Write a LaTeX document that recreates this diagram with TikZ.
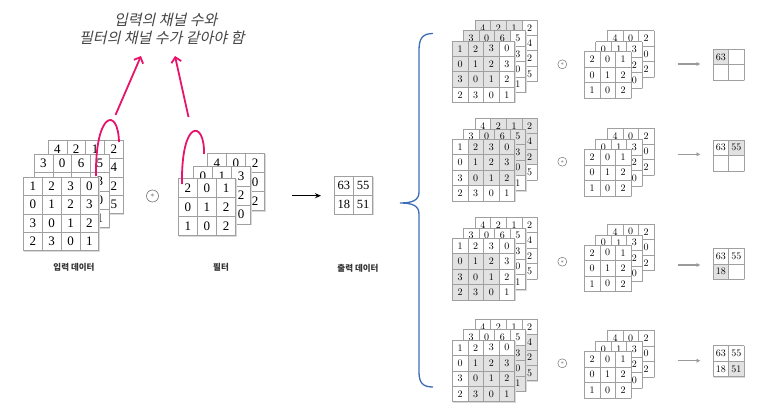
\documentclass[tikz,border=0pt]{standalone}
\usepackage{fontspec}
\usetikzlibrary{arrows.meta}
\newfontfamily\kr{Noto Sans CJK KR}
\newfontfamily\tms{Liberation Serif}
\definecolor{gridc}{HTML}{A0A0A0}
\definecolor{shadec}{HTML}{E2E2E2}
\definecolor{pinkc}{HTML}{E8146C}
\definecolor{bracec}{HTML}{3D6DB5}
\definecolor{labc}{HTML}{333333}
\definecolor{titlec}{HTML}{454545}
\definecolor{arrgray}{HTML}{9A9A9A}
% #1 name, #2 x, #3 y, #4 w, #5 h, #6 cols, #7 rows, #8 values, #9 window c0/r0/c1/r1
\newcommand\glayer[9]{%
  \fill[gridshadow] ({#2+0.9},{#3+0.9}) rectangle ++({#6*#4},{#7*#5});
  \fill[white] (#2,#3) rectangle ++({#6*#4},{#7*#5});
  \foreach \gwA/\gwB/\gwC/\gwD in {#9}{\fill[shadec] ({#2+\gwA*#4},{#3+\gwB*#5}) rectangle ({#2+(\gwC+1)*#4},{#3+(\gwD+1)*#5});}
  \foreach \gi in {0,...,#6}{\draw[gridline] ({#2+\gi*#4},#3) -- ++(0,{#7*#5});}
  \foreach \gj in {0,...,#7}{\draw[gridline] (#2,{#3+\gj*#5}) -- ++({#6*#4},0);}
  \foreach \gval [count=\gk from 0] in {#8}{%
    \pgfmathtruncatemacro\gR{int(\gk/#6)}%
    \pgfmathtruncatemacro\gC{mod(\gk,#6)}%
    \node[cellnum] (#1-\gR-\gC) at ({#2+(\gC+0.5)*#4},{#3+(\gR+0.5)*#5}) {\gval};}%
}
% #1 id, #2 input top, #3 filter top, #4 conv y, #5 arrow y, #6 output top, #7 window, #8 output window, #9 output values
\newcommand\convrow[9]{%
  \tikzset{cellnum/.style={rnum}}
  \glayer{r#1ib}{475}{#2-21}{15.6}{15.4}{4}{4}{4,2,1,2,{},{},{},4,{},{},{},2,{},{},{},5}{#7}
  \glayer{r#1im}{463.3}{#2-10.3}{15.6}{15.4}{4}{4}{3,0,6,5,{},{},{},3,{},{},{},0,{},{},{},1}{#7}
  \glayer{r#1if}{452.3}{#2}{15.6}{15.4}{4}{4}{1,2,3,0,0,1,2,3,3,0,1,2,2,3,0,1}{#7}
  \glayer{r#1fb}{607.3}{#3-21}{15.5}{15.5}{3}{3}{4,0,2,{},{},0,{},{},2}{0/0/-1/-1}
  \glayer{r#1fm}{595.6}{#3-10}{15.5}{15.5}{3}{3}{0,1,3,{},{},2,{},{},0}{0/0/-1/-1}
  \glayer{r#1ff}{584.3}{#3}{15.5}{15.5}{3}{3}{2,0,1,0,1,2,1,0,2}{0/0/-1/-1}
  \node[convsmall] (r#1conv) at (562.3,#4) {$\ast$};
  \coordinate (r#1a) at (677.7,#5);
  \coordinate (r#1b) at (700.5,#5);
  \draw[grayarrow] (r#1a) -- (r#1b);
  \glayer{r#1o}{713}{#6}{15.5}{15.5}{2}{2}{#9}{#8}
}
\begin{document}
\begin{tikzpicture}[x=1pt,y=-1pt,
  gridline/.style={draw=gridc,line width=0.6pt},
  gridshadow/.style={fill=black!15},
  lnum/.style={inner sep=0pt,font=\tms\fontsize{13}{13}\selectfont},
  onum/.style={inner sep=0pt,font=\tms\fontsize{12.5}{12.5}\selectfont},
  rnum/.style={inner sep=0pt,font=\fontsize{10}{10}\selectfont},
  cellnum/.style={lnum},
  convbig/.style={circle,draw=black!55,line width=0.6pt,inner sep=0pt,minimum size=12pt,text=black!60,font=\fontsize{8}{8}\selectfont},
  convsmall/.style={circle,draw=black!55,line width=0.5pt,inner sep=0pt,minimum size=9pt,text=black!60,font=\fontsize{6}{6}\selectfont},
  grayarrow/.style={draw=arrgray,line width=1.4pt,-{Latex[length=4pt,width=4.5pt]}},
  pinkline/.style={draw=pinkc,line width=1.8pt},
  pinkarrow/.style={draw=pinkc,line width=1.8pt,-{Straight Barb[length=5pt,width=10pt]}},
  lab/.style={inner sep=0pt,text=labc,font=\kr\bfseries\fontsize{8.5}{8.5}\selectfont},
  titletext/.style={inner sep=0pt,align=center,text=titlec,xslant=0.22,font=\kr\fontsize{15}{18}\selectfont}
]
\useasboundingbox (0,0) rectangle (761,404);

% title
\node[titletext] (title) at (165,29) {입력의 채널 수와\\필터의 채널 수가 같아야 함};

% left input
\glayer{inb}{48}{140}{18.8}{18.4}{4}{4}{4,2,1,2,{},{},{},4,{},{},{},2,{},{},{},5}{0/0/-1/-1}
\glayer{inm}{34}{154}{18.8}{18.4}{4}{4}{3,0,6,5,{},{},{},3,{},{},{},0,{},{},{},1}{0/0/-1/-1}
\glayer{inf}{23.5}{177}{18.8}{18.4}{4}{4}{1,2,3,0,0,1,2,3,3,0,1,2,2,3,0,1}{0/0/-1/-1}
% left filter
\glayer{fb}{207.3}{153.3}{19.1}{19.1}{3}{3}{4,0,2,{},{},0,{},{},2}{0/0/-1/-1}
\glayer{fm}{193.3}{166.7}{19.1}{19.1}{3}{3}{0,1,3,{},{},2,{},{},0}{0/0/-1/-1}
\glayer{ff}{178.3}{178.3}{19.1}{19.1}{3}{3}{2,0,1,0,1,2,1,0,2}{0/0/-1/-1}
% output
\tikzset{cellnum/.style={onum}}
\glayer{out}{334.3}{176}{19.2}{19}{2}{2}{63,55,18,51}{0/0/-1/-1}

\node[convbig] (conv) at (152.5,196) {$\ast$};
\coordinate (ka) at (292.3,195.7);
\coordinate (kb) at (321,195.7);
\draw[line width=1.3pt,-{Stealth[length=6pt,width=5pt]}] (ka) -- (kb);

\node[lab] (labin) at (74,267) {입력 데이터};
\node[lab] (labf) at (221,267) {필터};
\node[lab] (labo) at (358,268) {출력 데이터};

% pink arcs and arrows
\coordinate (pa1) at (96,176);
\coordinate (pa2) at (119,142);
\draw[pinkline] (pa1) .. controls (95,112) and (118,106) .. (pa2);
\coordinate (pb1) at (182,184);
\coordinate (pb2) at (204,154);
\draw[pinkline] (pb1) .. controls (181,118) and (205,120) .. (pb2);
\coordinate (pl1) at (115.5,115);
\coordinate (pl2) at (141,56);
\draw[pinkarrow] (pl1) -- (pl2);
\coordinate (pr1) at (188.5,117);
\coordinate (pr2) at (175,56);
\draw[pinkarrow] (pr1) -- (pr2);

% brace
\draw[bracec,line width=1.3pt] (433,33.5) .. controls (423,33.5) and (419,38) .. (419,50)
  -- (419,192) .. controls (419,200) and (413,203) .. (400,203)
  .. controls (413,203) and (419,206) .. (419,214)
  -- (419,372) .. controls (419,383) and (423,387) .. (433,387);

% right rows
\convrow{1}{41}{51.7}{64.3}{64}{49.3}{0/0/2/2}{0/0/0/0}{63,{},{},{}}
\convrow{2}{139.3}{149.3}{161.7}{154.3}{140}{1/0/3/2}{1/0/1/0}{63,55,{},{}}
\convrow{3}{238.3}{245}{261.7}{265}{248.3}{0/1/2/3}{0/1/0/1}{63,55,18,{}}
\convrow{4}{340}{351.3}{363.3}{360.7}{345.7}{1/1/3/3}{1/1/1/1}{63,55,18,51}
\end{tikzpicture}
\end{document}
